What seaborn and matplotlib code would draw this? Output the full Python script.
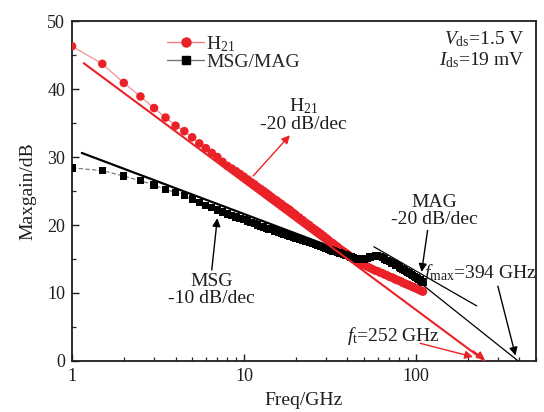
import numpy as np
import pandas as pd
import matplotlib
matplotlib.use("Agg")
import matplotlib.pyplot as plt
import seaborn as sns
from matplotlib.lines import Line2D

# ---------------- data ----------------
freq_ghz = [1, 1.5, 2, 2.5, 3, 3.5, 4, 4.5, 5, 5.5, 6, 6.5, 7, 7.5, 8, 8.5, 9, 9.5, 10,
            10.5, 11, 11.5, 12, 12.5, 13, 13.5, 14, 14.5, 15, 15.5, 16, 16.5, 17, 17.5,
            18, 18.5, 19, 19.5, 20,
            21, 22, 23, 24, 25, 26, 27, 28, 29, 30, 31, 32, 33, 34, 35, 36, 37, 38, 39, 40,
            41, 42, 43, 44, 45, 46, 47, 48, 49, 50,
            52, 54, 56, 58, 60, 62, 64, 66, 68, 70, 72, 74, 76, 78, 80, 82, 84, 86, 88, 90,
            92, 94, 96, 98, 100, 102, 104, 106, 108, 110]

h21_db = [46.3, 43.7, 40.9, 38.9, 37.2, 35.8, 34.6, 33.8, 32.9, 32.0, 31.3, 30.6, 30.0, 29.3,
          28.7, 28.3, 27.9, 27.5, 27.1, 26.7, 26.3, 26.0, 25.6, 25.3, 25.0, 24.7, 24.4, 24.1,
          23.8, 23.6, 23.3, 23.1, 22.8, 22.6, 22.4, 22.2, 21.9, 21.7, 21.5,
          21.1, 20.7, 20.3, 20.0, 19.6, 19.3, 19.0, 18.7, 18.4, 18.1, 17.8, 17.5, 17.3, 17.0,
          16.8, 16.5, 16.3, 16.1, 15.9, 15.7, 15.5, 15.3, 15.2, 15.0, 14.8, 14.7, 14.5, 14.4,
          14.2, 14.1,
          13.9, 13.7, 13.5, 13.3, 13.2, 13.0, 12.9, 12.7, 12.6, 12.4, 12.3, 12.2, 12.0, 11.9,
          11.8, 11.7, 11.5, 11.4, 11.3, 11.2, 11.1, 11.0, 10.9, 10.8, 10.7, 10.6, 10.5, 10.4,
          10.3, 10.2]

msg_mag_db = [28.4, 28.0, 27.2, 26.5, 25.9, 25.2, 24.8, 24.3, 23.8, 23.3, 22.9, 22.6, 22.2,
              21.9, 21.6, 21.4, 21.2, 21.0, 20.8, 20.6, 20.4, 20.2, 20.0, 19.8, 19.7, 19.5,
              19.4, 19.3, 19.1, 19.0, 18.9, 18.8, 18.7, 18.6, 18.5, 18.4, 18.3, 18.2, 18.1,
              17.9, 17.7, 17.6, 17.4, 17.3, 17.1, 17.0, 16.8, 16.7, 16.6, 16.4, 16.3, 16.2,
              16.1, 16.0, 15.9, 15.8, 15.7, 15.6, 15.5, 15.4, 15.3, 15.2, 15.1, 15.0, 14.95,
              14.9, 14.9, 14.9, 15.0,
              15.1, 15.3, 15.4, 15.5, 15.5, 15.4, 15.2, 15.0, 14.8, 14.6, 14.4, 14.3, 14.1,
              14.0, 13.8, 13.6, 13.5, 13.3, 13.2, 13.0, 12.9, 12.7, 12.6, 12.4, 12.3, 12.1,
              12.0, 11.9, 11.7, 11.6]

# fitted / extrapolation lines (endpoints)
h21_fit_f = [1.17, 252]
h21_fit_db = [43.8, 0.0]
msg_fit_f = [1.14, 45]
msg_fit_db = [30.6, 15.4]
tan_fit_f = [57, 226]
tan_fit_db = [16.8, 8.1]
mag_fit_f = [100, 394]
mag_fit_db = [12.0, 0.0]

x_ticks = [1, 10, 100]
x_tick_labels = ["1", "10", "100"]
y_ticks = [0, 10, 20, 30, 40, 50]

RED = "#ea2127"
BLACK = "#000000"
TXT = "#1e1e1e"

# ---------------- style ----------------
sns.set_theme(style="ticks")
plt.rcParams["font.family"] = ["Liberation Serif", "DejaVu Serif"]
plt.rcParams["mathtext.fontset"] = "custom"
plt.rcParams["mathtext.rm"] = "Liberation Serif"
plt.rcParams["mathtext.it"] = "Liberation Serif:italic"
plt.rcParams["mathtext.bf"] = "Liberation Serif:bold"

fig = plt.figure(figsize=(5.44, 4.12), dpi=100)
ax = fig.add_axes([0.1324, 0.1238, 0.8529, 0.8252])

df_h = pd.DataFrame({"f": freq_ghz, "g": h21_db})
df_m = pd.DataFrame({"f": freq_ghz, "g": msg_mag_db})

# connecting thin lines
sns.lineplot(data=df_h, x="f", y="g", ax=ax, color=RED, lw=0.8, alpha=0.55,
             estimator=None, sort=False)
sns.lineplot(data=df_m, x="f", y="g", ax=ax, color=BLACK, lw=0.8, alpha=0.55,
             linestyle=(0, (4, 2)), estimator=None, sort=False)
# markers
sns.scatterplot(data=df_h, x="f", y="g", ax=ax, color=RED, marker="o", s=38,
                edgecolor="none", zorder=3)
sns.scatterplot(data=df_m, x="f", y="g", ax=ax, color=BLACK, marker="s", s=28,
                edgecolor="none", zorder=4)

# fit lines
sns.lineplot(x=h21_fit_f, y=h21_fit_db, ax=ax, color=RED, lw=1.5, zorder=5)
sns.lineplot(x=msg_fit_f, y=msg_fit_db, ax=ax, color=BLACK, lw=1.6, zorder=2)
sns.lineplot(x=tan_fit_f, y=tan_fit_db, ax=ax, color=BLACK, lw=0.9, zorder=5)
sns.lineplot(x=mag_fit_f, y=mag_fit_db, ax=ax, color=BLACK, lw=0.9, zorder=5)

ax.set_xscale("log")
ax.set_xlim(1, 500)
ax.set_ylim(0, 50)
ax.set_xticks(x_ticks)
ax.set_xticklabels(x_tick_labels)
ax.set_yticks(y_ticks)
ax.yaxis.set_minor_locator(matplotlib.ticker.MultipleLocator(5))
ax.xaxis.set_minor_locator(matplotlib.ticker.LogLocator(base=10, subs=np.arange(2, 10)))
ax.xaxis.set_minor_formatter(matplotlib.ticker.NullFormatter())
ax.tick_params(axis="both", which="major", direction="in", length=5, width=1.0,
               labelsize=13, colors=TXT, pad=5)
ax.tick_params(axis="both", which="minor", direction="in", length=3, width=0.9)
for sp in ax.spines.values():
    sp.set_visible(True)
    sp.set_linewidth(1.3)
    sp.set_color(TXT)

ax.set_xlabel("Freq/GHz", fontsize=14, color=TXT, labelpad=5)
ax.set_ylabel("Maxgain/dB", fontsize=14, color=TXT, labelpad=8)

# legend
handles = [Line2D([0], [0], color="#f08080", lw=1.0, marker="o", markersize=6.5,
                  markerfacecolor=RED, markeredgecolor=RED),
           Line2D([0], [0], color="#777777", lw=1.0, marker="s", markersize=5.5,
                  markerfacecolor=BLACK, markeredgecolor=BLACK)]
ax.legend(handles, ["H$_{21}$", "MSG/MAG"], loc="upper left",
          bbox_to_anchor=(0.205, 0.962), frameon=False, fontsize=14,
          handlelength=1.9, handletextpad=0.1, labelspacing=0.0,
          borderpad=0, borderaxespad=0)

# condition text
ax.text(0.975, 0.975, "$V_{\\rm ds}$=1.5 V\n$I_{\\rm ds}$=19 mV", transform=ax.transAxes,
        ha="right", va="top", fontsize=14, color=TXT, linespacing=1.05)

arrow_kw = dict(lw=1.0, shrinkA=0, shrinkB=0, mutation_scale=12)
# H21 annotation
ax.text(22.3, 33.5, "H$_{21}$\n-20 dB/dec", ha="center", va="bottom", fontsize=14,
        color=TXT, linespacing=1.0)
ax.annotate("", xy=(18.5, 33.2), xytext=(11.3, 27.2),
            arrowprops=dict(arrowstyle="-|>", color=RED, **arrow_kw))
# MSG annotation
ax.text(6.45, 12.9, "MSG\n-10 dB/dec", ha="center", va="top", fontsize=14,
        color=TXT, linespacing=1.0)
ax.annotate("", xy=(7.0, 21.0), xytext=(6.5, 13.4),
            arrowprops=dict(arrowstyle="-|>", color=BLACK, **arrow_kw))
# MAG annotation
ax.text(128, 19.6, "MAG\n-20 dB/dec", ha="center", va="bottom", fontsize=14,
        color=TXT, linespacing=1.0)
ax.annotate("", xy=(108, 13.1), xytext=(117, 19.2),
            arrowprops=dict(arrowstyle="-|>", color=BLACK, **arrow_kw))
# fmax
ax.text(111, 13.0, "$f_{\\rm max}$=394 GHz", ha="left", va="center", fontsize=14,
        color=TXT, zorder=10)
ax.annotate("", xy=(380, 0.8), xytext=(300, 11.0),
            arrowprops=dict(arrowstyle="-|>", color=BLACK, **arrow_kw))
# ft
ax.text(40, 3.7, "$f_{\\rm t}$=252 GHz", ha="left", va="center", fontsize=14, color=TXT)
ax.annotate("", xy=(215, 0.6), xytext=(106, 2.6),
            arrowprops=dict(arrowstyle="-|>", color=RED, **arrow_kw))
ax.annotate("", xy=(252, 0.2), xytext=(215, 1.5),
            arrowprops=dict(arrowstyle="-|>", color=RED, **arrow_kw))

fig.savefig("out.png", dpi=100)
